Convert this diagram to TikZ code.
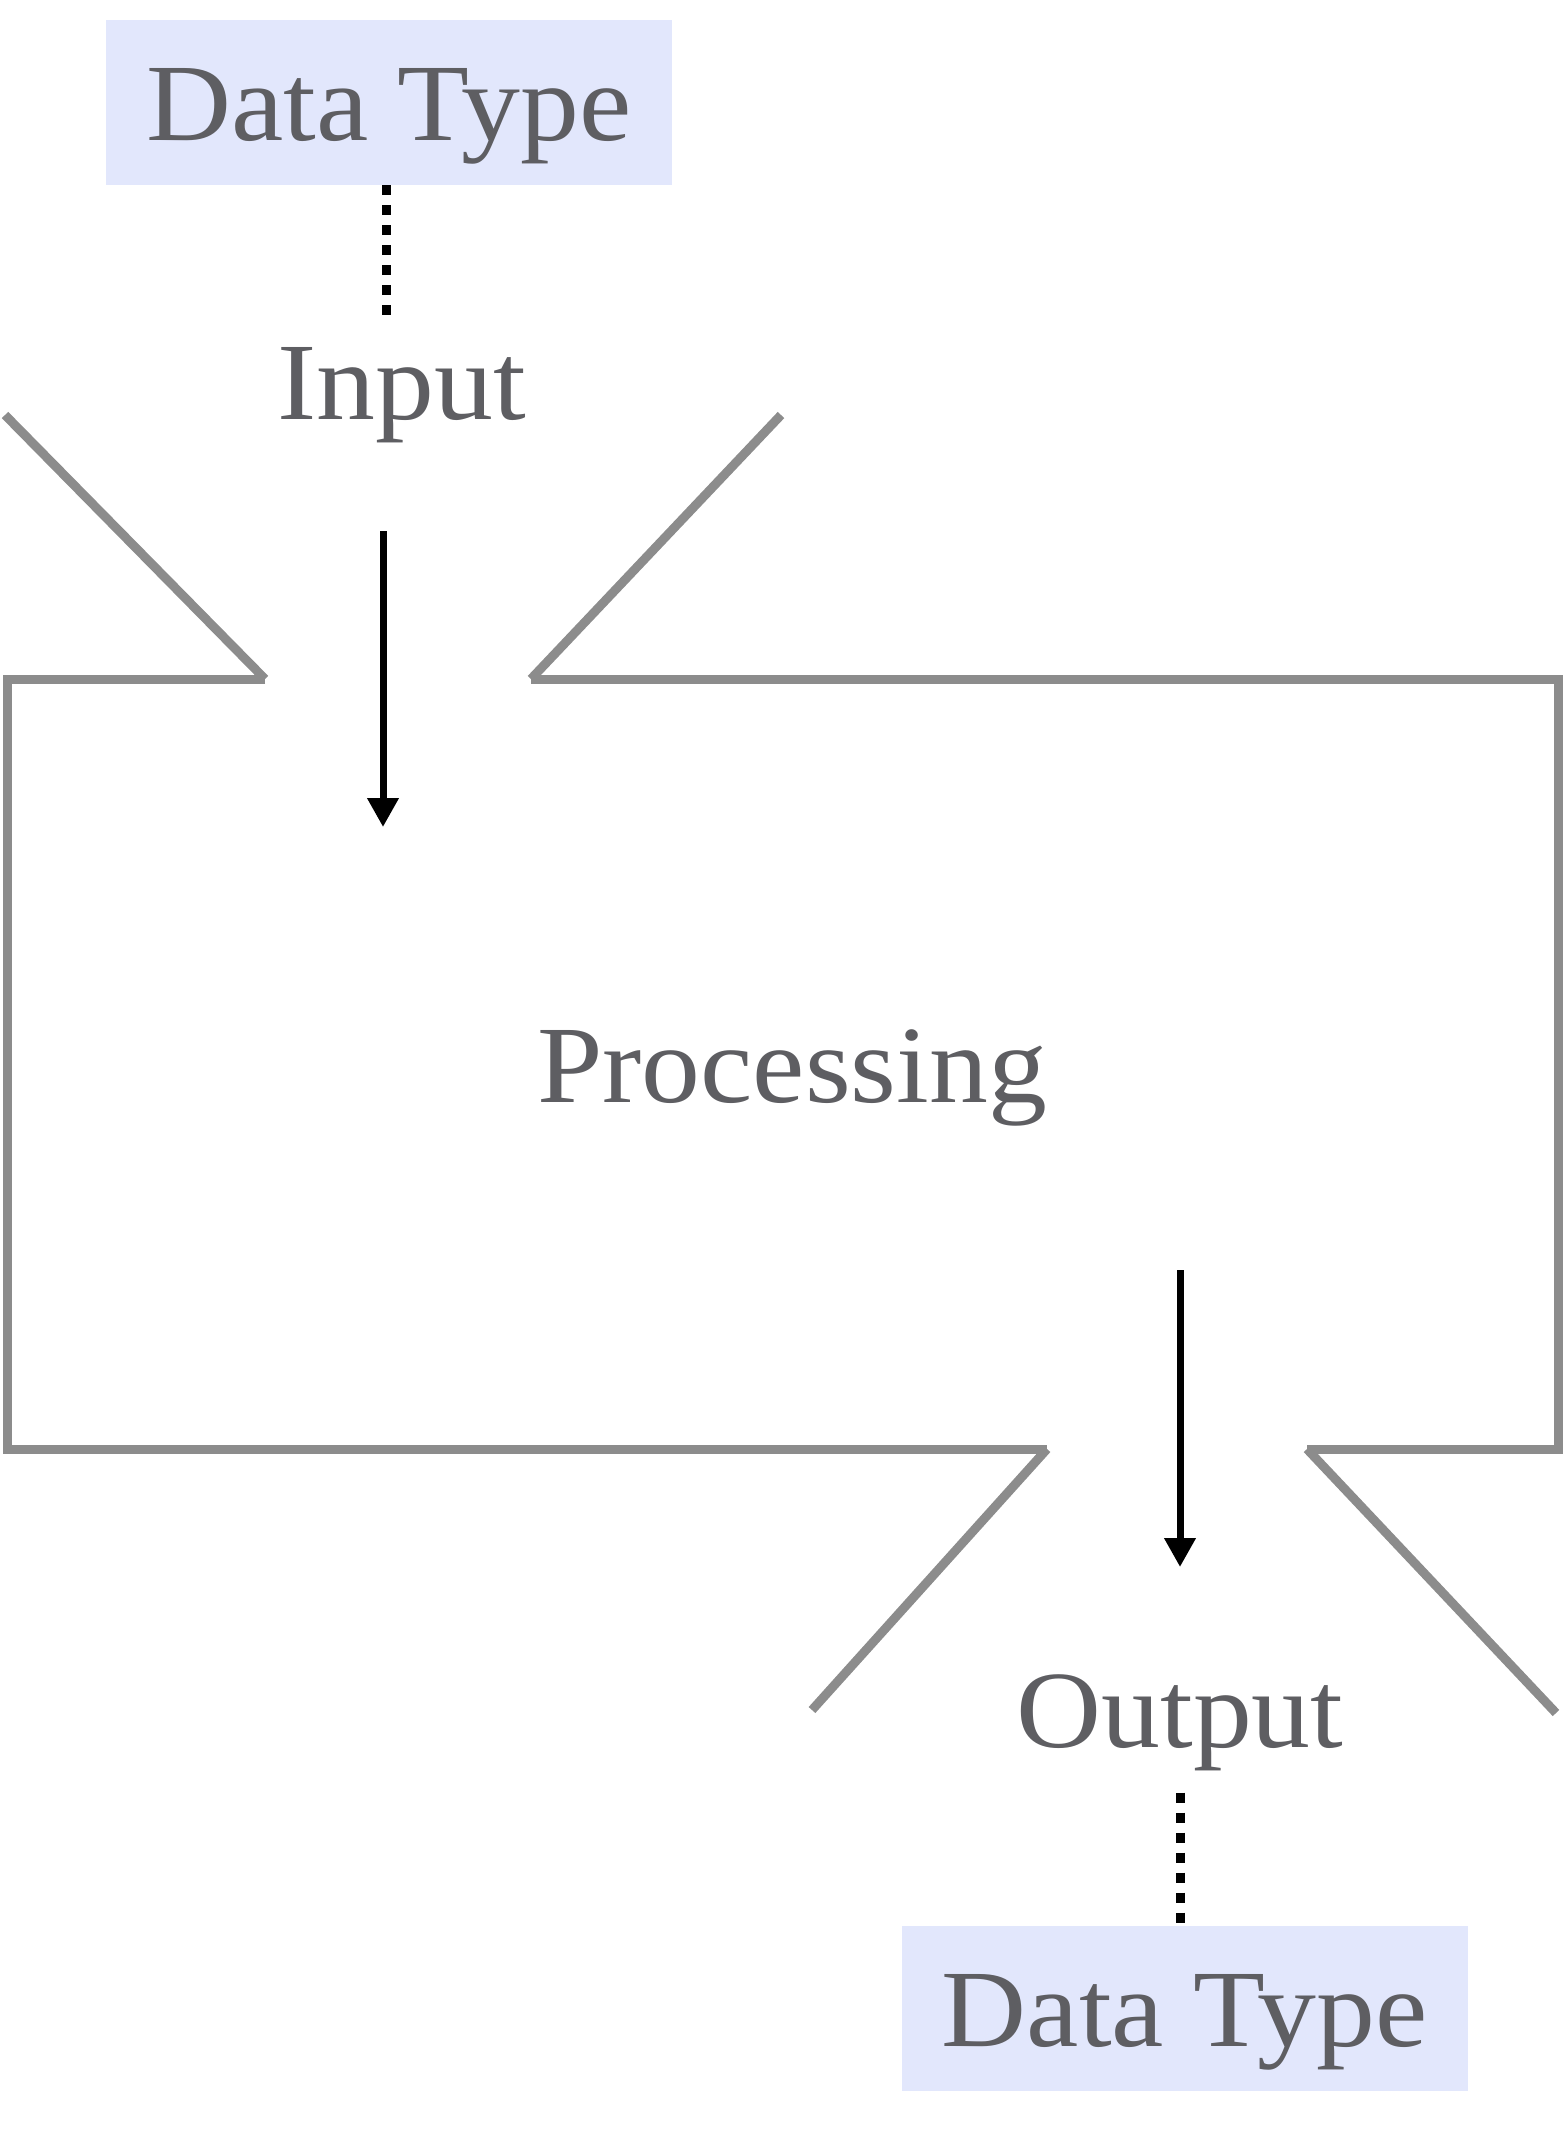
\documentclass[tikz,border=0pt]{standalone}
\usepackage{fontspec}
\setmainfont[FakeStretch=1.07]{Liberation Serif}
\usetikzlibrary{arrows.meta}
\definecolor{txtgray}{RGB}{94,94,98}
\definecolor{boxfill}{RGB}{226,231,252}
\definecolor{wallgray}{RGB}{140,140,140}
\begin{document}
\begin{tikzpicture}[x=1pt,y=-1pt,
  lbl/.style={text=txtgray,font=\fontsize{110}{132}\selectfont,inner sep=0pt,anchor=base},
  typebox/.style={lbl,fill=boxfill,minimum width=566pt,text height=120pt,text depth=45pt},
  wall/.style={draw=wallgray,line width=9pt},
  flow/.style={draw=black,line width=7pt,-{Triangle[width=30pt,length=29pt]}},
  dotline/.style={draw=black,line width=9pt,dash pattern=on 10pt off 10pt}]
\useasboundingbox (0,0) rectangle (1563,2138);

% labels
\node[typebox] (dtin) at (389,140) {Data Type};
\node[lbl] (inlbl) at (402,419) {Input};
\node[lbl] (proc) at (792,1102) {Processing};
\node[lbl] (outlbl) at (1180,1747) {Output};
\node[typebox] (dtout) at (1184.5,2046) {Data Type};

% processing block with funnel openings
\draw[wall] (265,679) -- (7,679) -- (7,1449) -- (1047,1449);
\draw[wall] (1307,1449) -- (1558,1449) -- (1558,679) -- (531,679);
\draw[wall] (5,415) -- (265,679);
\draw[wall] (781,415) -- (531,679);
\draw[wall] (1047,1449) -- (812,1710);
\draw[wall] (1307,1449) -- (1556,1713);

% flow arrows
\coordinate (inA) at (383,531);
\coordinate (inB) at (383,827);
\coordinate (outA) at (1180,1270);
\coordinate (outB) at (1180,1567);
\draw[flow] (inA) -- (inB);
\draw[flow] (outA) -- (outB);

% data type links
\draw[dotline,shorten >=28pt] (dtin.south -| 386,0) -- (386,0 |- inlbl.north);
\draw[dotline,shorten <=22pt] (outlbl.south) -- (outlbl.south |- dtout.north);
\end{tikzpicture}
\end{document}
